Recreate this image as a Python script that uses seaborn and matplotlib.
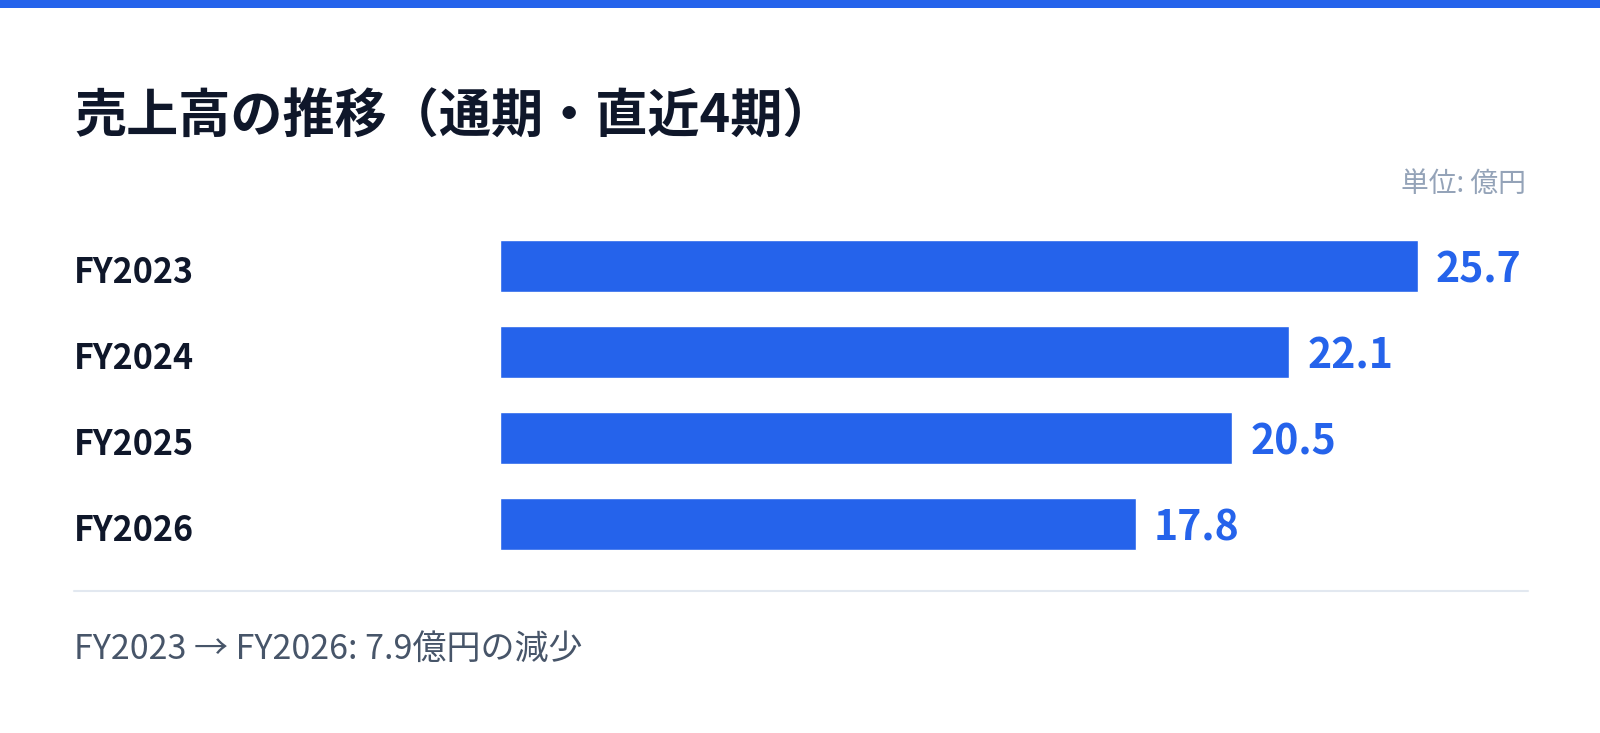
import pandas as pd
import matplotlib.pyplot as plt
import matplotlib.transforms as mtransforms
from matplotlib.lines import Line2D
from matplotlib.patches import Rectangle
import seaborn as sns

# -------------------------
# Data
# -------------------------
years = ["FY2023", "FY2024", "FY2025", "FY2026"]
sales = [25.7, 22.1, 20.5, 17.8]

title = "売上高の推移（通期・直近4期）"
unit_label = "単位: 億円"
footer = "FY2023 → FY2026: 7.9億円の減少"

df = pd.DataFrame({"year": years, "sales": sales})

# -------------------------
# Style
# -------------------------
BLUE = "#2563eb"
DARK = "#0f172a"
GRAY = "#94a3b8"
SLATE = "#475569"
LINE = "#e2e8f0"

sns.set_theme(style="white")
plt.rcParams["font.family"] = ["Noto Sans CJK JP", "DejaVu Sans"]

W, H = 1600, 733
fig = plt.figure(figsize=(W / 100, H / 100), dpi=100)
fig.patch.set_facecolor("white")


def fx(px):
    return px / W


def fy(px):
    return 1 - px / H


# bar area: value 0 at x=500px, right edge 1528px, rows 86px apart
left, right = 500, 1528
top, bottom = 223, 567
ax = fig.add_axes([fx(left), fy(bottom), fx(right - left), (bottom - top) / H])

sns.barplot(data=df, x="sales", y="year", orient="h", color=BLUE,
            saturation=1, width=0.605, ax=ax)

scale = 918 / max(sales)  # px per unit
ax.set_xlim(0, (right - left) / scale)
ax.set_ylim(len(years) - 0.5, -0.5)
ax.axis("off")

# value labels
anns = ax.bar_label(ax.containers[0], labels=[f"{v:.1f}" for v in sales],
                    padding=13, fontsize=29.5, fontweight="bold", color=BLUE)
for a in anns:
    a.xyann = (13, -3.5)

# category labels on the left
trans = mtransforms.blended_transform_factory(fig.transFigure, ax.transData)
for i, y in enumerate(years):
    ax.text(fx(74), i + 0.08, y, transform=trans, ha="left", va="center",
            fontsize=24.5, fontweight="bold", color=DARK)

# -------------------------
# Decorations
# -------------------------
fig.add_artist(Rectangle((0, fy(8)), 1, 8 / H, transform=fig.transFigure,
                         color=BLUE, lw=0))

fig.text(fx(74), fy(117), title, ha="left", va="center",
         fontsize=37.5, fontweight="bold", color=DARK)

fig.text(fx(1526), fy(184), unit_label, ha="right", va="center",
         fontsize=20, color=GRAY)

fig.add_artist(Line2D([fx(74), fx(1528)], [fy(591), fy(591)],
                      transform=fig.transFigure, color=LINE, lw=1.5))

fig.text(fx(74), fy(649), footer, ha="left", va="center",
         fontsize=24.5, color=SLATE)

plt.savefig("out.png", dpi=100, facecolor="white")
